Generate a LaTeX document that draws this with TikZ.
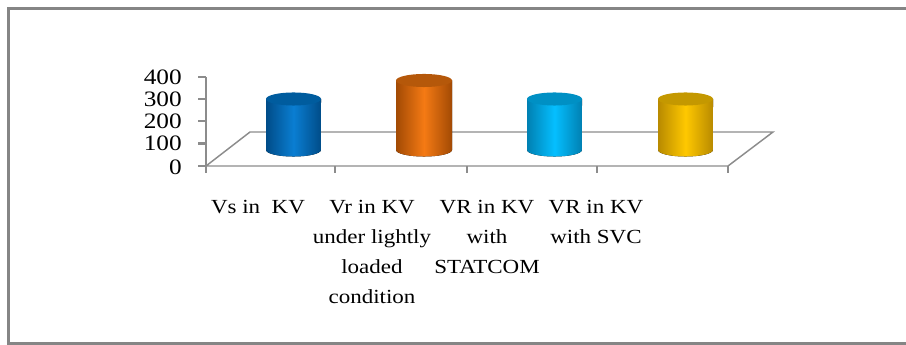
\documentclass[tikz,border=0pt]{standalone}
\usepackage{fontspec}
\setmainfont{Liberation Serif}[FakeStretch=1.15]
\usetikzlibrary{positioning}
\definecolor{framegray}{HTML}{858585}
\definecolor{axisgray}{HTML}{8C8C8C}
\definecolor{vsdark}{HTML}{004C88}
\definecolor{vslight}{HTML}{0A7ED2}
\definecolor{vstop}{HTML}{005C9E}
\definecolor{vrdark}{HTML}{A24A04}
\definecolor{vrlight}{HTML}{F57A14}
\definecolor{vrtop}{HTML}{B5580A}
\definecolor{stdark}{HTML}{0080B2}
\definecolor{stlight}{HTML}{05BFFF}
\definecolor{sttop}{HTML}{0090C4}
\definecolor{svdark}{HTML}{B88A00}
\definecolor{svlight}{HTML}{FFC800}
\definecolor{svtop}{HTML}{C49800}

\begin{document}
\begin{tikzpicture}[x=0.75pt,y=0.75pt,
  lbl/.style={align=center,inner sep=0pt,anchor=north,font=\fontsize{15}{22.5}\selectfont},
  num/.style={anchor=east,inner sep=0pt,font=\fontsize{16.5}{18}\selectfont},
  ax/.style={draw=axisgray,line width=1.1pt},
  tk/.style={draw=axisgray,line width=1.6pt}]
\useasboundingbox (0,0) rectangle (906,345);
% outer frame, right side runs off the page
\draw[framegray,line width=2.3pt] (906,336.5) -- (8.5,336.5) -- (8.5,1) -- (906,1);
% floor and value axis
\coordinate (fl) at (206,179);
\coordinate (fr) at (728,179);
\coordinate (bl) at (250,213);
\coordinate (br) at (773,213);
\coordinate (top) at (206,268);
\draw[ax] (bl) -- (br) -- (fr) -- (fl) -- cycle;
\draw[tk] (206,172) -- (top);
\draw[tk] (198,268) -- (206,268);
\draw[tk] (198,246) -- (206,246);
\draw[tk] (198,224) -- (206,224);
\draw[tk] (198,201.5) -- (206,201.5);
\draw[tk] (198,179) -- (206,179);
\draw[tk] (335,179) -- (335,172);
\draw[tk] (467,179) -- (467,172);
\draw[tk] (597,179) -- (597,172);
\draw[tk] (728,179) -- (728,172);
\node[num] (n400) at (182,268) {400};
\node[num] (n300) at (182,246) {300};
\node[num] (n200) at (182,224) {200};
\node[num] (n100) at (182,201.5) {100};
\node[num] (n0) at (182,178) {0};
% cylinders
\fill[left color=vsdark,right color=vsdark,middle color=vslight]
  (266,246) -- (266,195) arc[start angle=180,end angle=360,x radius=20.6pt,y radius=4.9pt] -- (321,246) -- cycle;
\fill[vstop] (293.5,246) ellipse[x radius=20.6pt,y radius=4.9pt];
\fill[left color=vrdark,right color=vrdark,middle color=vrlight]
  (396,264.5) -- (396,195) arc[start angle=180,end angle=360,x radius=21pt,y radius=4.9pt] -- (452,264.5) -- cycle;
\fill[vrtop] (424,264.5) ellipse[x radius=21pt,y radius=4.9pt];
\fill[left color=stdark,right color=stdark,middle color=stlight]
  (527,246) -- (527,195) arc[start angle=180,end angle=360,x radius=20.6pt,y radius=4.9pt] -- (582,246) -- cycle;
\fill[sttop] (554.5,246) ellipse[x radius=20.6pt,y radius=4.9pt];
\fill[left color=svdark,right color=svdark,middle color=svlight]
  (658,246) -- (658,195) arc[start angle=180,end angle=360,x radius=20.6pt,y radius=4.9pt] -- (713,246) -- cycle;
\fill[svtop] (685.5,246) ellipse[x radius=20.6pt,y radius=4.9pt];
% category labels
\node[lbl] (vs) at (258,145) {Vs in\ \ KV};
\node[lbl] (vr) at (372,145) {Vr in KV\\under lightly\\loaded\\condition};
\node[lbl] (statcom) at (487,145) {VR in KV\\with\\STATCOM};
\node[lbl] (svc) at (596,145) {VR in KV\\with SVC};
\end{tikzpicture}
\end{document}
